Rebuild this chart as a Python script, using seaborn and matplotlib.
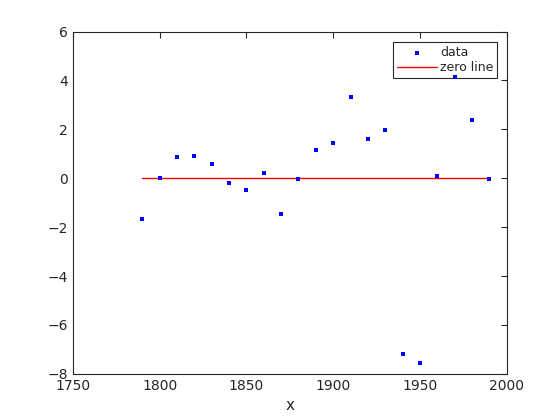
import matplotlib
matplotlib.use("Agg")
import matplotlib.pyplot as plt
import seaborn as sns
import pandas as pd

years = [1790, 1800, 1810, 1820, 1830, 1840, 1850, 1860, 1870, 1880, 1890,
         1900, 1910, 1920, 1930, 1940, 1950, 1960, 1970, 1980, 1990]
values = [-1.65, 0.02, 0.85, 0.9, 0.57, -0.2, -0.5, 0.22, -1.45, -0.03, 1.15,
          1.45, 3.33, 1.6, 1.97, -7.2, -7.55, 0.1, 4.12, 2.37, -0.05]
zero_x = [1790, 1990]
zero_y = [0, 0]
xticks = [1750, 1800, 1850, 1900, 1950, 2000]
yticks = [-8, -6, -4, -2, 0, 2, 4, 6]

sns.set_style("white")
plt.rcParams['font.family'] = ['DejaVu Sans']

fig = plt.figure(figsize=(5.6, 4.2), dpi=100)
ax = fig.add_axes([0.13, 0.11, 0.775, 0.815])

df = pd.DataFrame({"x": years, "y": values})
sns.scatterplot(data=df, x="x", y="y", ax=ax, marker="s", s=9, color="blue",
                edgecolor="blue", linewidth=0, label="data", zorder=6)
sns.lineplot(x=zero_x, y=zero_y, ax=ax, color="red", linewidth=1, label="zero line")

ax.set_xlim(1750, 2000)
ax.set_ylim(-8, 6)
ax.set_xticks(xticks)
ax.set_yticks(yticks)
ax.set_xlabel("x", fontsize=11, color="#262626")
ax.set_ylabel("")
ax.tick_params(direction="in", length=4, width=0.8, labelsize=10, colors="#262626",
               top=True, right=True, labeltop=False, labelright=False)
for s in ax.spines.values():
    s.set_color("#262626")
    s.set_linewidth(0.8)

leg = ax.legend(loc="upper right", fontsize=9, frameon=True, fancybox=False,
                edgecolor="#262626", borderpad=0.3, handlelength=3.2,
                handletextpad=0.25, labelspacing=0.15, borderaxespad=0.0,
                bbox_to_anchor=(0.978, 0.968), framealpha=1)
leg.get_frame().set_linewidth(0.8)

fig.savefig("out.png", dpi=100)
